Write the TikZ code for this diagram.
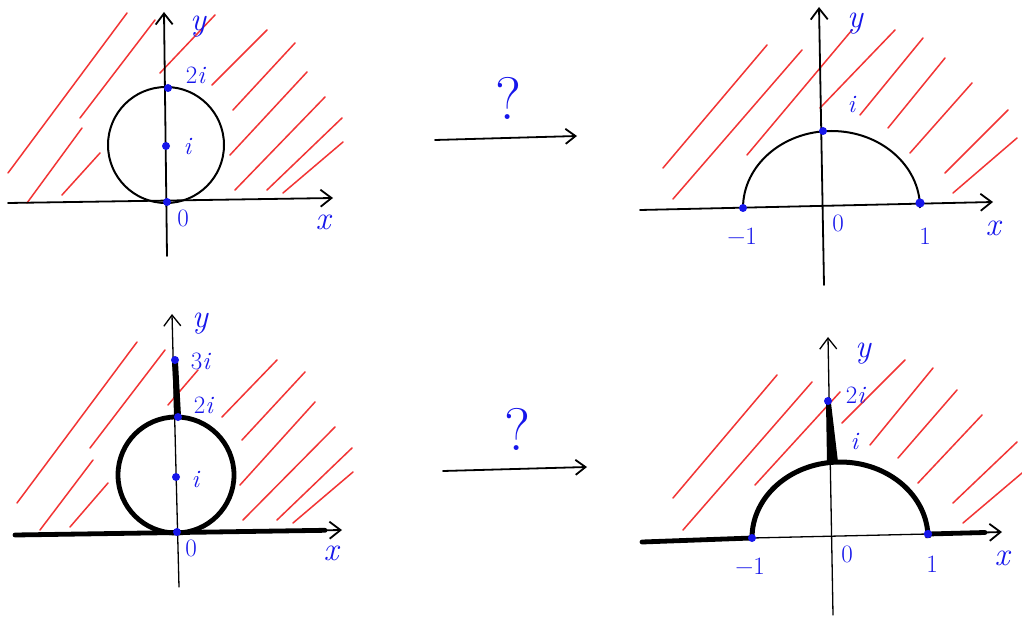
\documentclass[tikz,border=0pt]{standalone}
\usepackage{fontspec}
\setmainfont{Latin Modern Roman}
\usetikzlibrary{arrows.meta}
\definecolor{hred}{RGB}{242,52,52}
\definecolor{hblue}{RGB}{22,22,235}
\tikzset{
  axisline/.style={draw=black, line width=1.8pt, line cap=round, -{Straight Barb[length=11pt,width=17pt]}},
  thinaxis/.style={draw=black, line width=1.3pt, line cap=round, -{Straight Barb[length=11pt,width=17pt]}},
  hatch/.style={draw=hred, line width=1.5pt, line cap=round},
  curve/.style={draw=black, line width=2pt},
  heavy/.style={draw=black, line width=4.8pt, line cap=round},
  lab/.style={text=hblue, font=\fontsize{25}{25}\selectfont, inner sep=0pt},
  biglab/.style={text=hblue, font=\fontsize{33}{33}\selectfont\itshape, inner sep=0pt},
  qlab/.style={text=hblue, font=\fontsize{60}{60}\selectfont, inner sep=0pt},
  mapsto/.style={draw=black, line width=1.8pt, line cap=round, -{Straight Barb[length=10pt,width=15pt]}},
}
\newcommand{\im}{\textit{i}}
\begin{document}
\begin{tikzpicture}[x=1pt,y=-1pt]
\useasboundingbox (0,0) rectangle (1022,617);
\fill[white] (0,0) rectangle (1022,617);

% ---------------- Panel 1 (top left)
\foreach \a/\b in {{(8,173)}/{(127,13)},{(80,118)}/{(155,20)},{(27,203)}/{(82,128)},{(62,195)}/{(100,153)},
  {(160,73)}/{(215,15)},{(212,85)}/{(267,30)},{(233,110)}/{(295,43)},{(230,155)}/{(307,72)},
  {(235,190)}/{(325,97)},{(267,190)}/{(342,118)},{(283,193)}/{(343,142)}}
  \draw[hatch] \a -- \b;
\coordinate (p1xs) at (8,203); \coordinate (p1xe) at (333,198);
\coordinate (p1ys) at (167,256); \coordinate (p1ye) at (164,12);
\draw[axisline] (p1xs) -- (p1xe);
\draw[axisline] (p1ys) -- (p1ye);
\draw[curve] (166,145) circle (58pt);
\fill[hblue] (168,88) circle (4pt);
\fill[hblue] (166,146) circle (4pt);
\fill[hblue] (167,202) circle (4pt);
\node[biglab] (p1y) at (198,27) {y};
\node[lab] (p1two) at (196,75) {2\im};
\node[lab] (p1i) at (188,147) {\im};
\node[lab] (p1zero) at (183,218) {0};
\node[biglab] (p1x) at (323,222) {x};

% ---------------- Arrow 1
\node[qlab] (q1) at (508,98) {?};
\coordinate (a1s) at (435,140); \coordinate (a1e) at (577,136);
\draw[mapsto] (a1s) -- (a1e);

% ---------------- Panel 2 (top right)
\foreach \a/\b in {{(663,168)}/{(767,45)},{(673,199)}/{(802,50)},{(747,155)}/{(852,30)},{(820,108)}/{(895,30)},
  {(860,115)}/{(923,38)},{(888,128)}/{(945,58)},{(910,153)}/{(972,83)},{(945,173)}/{(1008,110)},
  {(953,193)}/{(1017,138)}}
  \draw[hatch] \a -- \b;
\coordinate (p2xs) at (640,210); \coordinate (p2xe) at (993,202);
\coordinate (p2ys) at (824,285); \coordinate (p2ye) at (819,7);
\draw[axisline] (p2xs) -- (p2xe);
\draw[axisline] (p2ys) -- (p2ye);
\draw[curve] (743,208) arc[start angle=180, end angle=0, x radius=88.5pt, y radius=77pt];
\fill[hblue] (743,208) circle (4pt);
\fill[hblue] (823,131) circle (4pt);
\fill[hblue] (920,203) circle (4.6pt);
\node[biglab] (p2y) at (855,24) {y};
\node[lab] (p2i) at (852,105) {\im};
\node[lab] (p2zero) at (838,223) {0};
\node[lab] (p2m1) at (742,236) {−1};
\node[lab] (p2one) at (925,236) {1};
\node[biglab] (p2x) at (993,228) {x};

% ---------------- Panel 3 (bottom left)
\foreach \a/\b in {{(17,503)}/{(137,342)},{(90,448)}/{(165,350)},{(40,530)}/{(93,460)},{(70,527)}/{(108,483)},
  {(168,405)}/{(198,370)},{(222,417)}/{(277,360)},{(242,440)}/{(305,372)},{(240,485)}/{(315,402)},
  {(243,520)}/{(335,427)},{(277,520)}/{(352,448)},{(293,523)}/{(353,472)}}
  \draw[hatch] \a -- \b;
\coordinate (p3xs) at (15,535); \coordinate (p3xe) at (342,530);
\coordinate (p3ys) at (179,587); \coordinate (p3ye) at (172,314);
\draw[thinaxis] (p3ys) -- (p3ye);
\draw[heavy] (p3xs) -- (325,530.3);
\draw[draw=black, line width=1.8pt, -{Straight Barb[length=11pt,width=17pt]}] (318,530.4) -- (p3xe);
\draw[draw=black, line width=4.8pt] (176,475) circle (58pt);
\draw[draw=black, line width=6pt] (175,362) -- (178,416);
\fill[hblue] (175,360) circle (4pt);
\fill[hblue] (178,417) circle (4pt);
\fill[hblue] (176,477) circle (4pt);
\fill[hblue] (177,532) circle (4pt);
\node[biglab] (p3y) at (200,324) {y};
\node[lab] (p3three) at (201,361) {3\im};
\node[lab] (p3two) at (204,405) {2\im};
\node[lab] (p3i) at (196,479) {\im};
\node[lab] (p3zero) at (191,548) {0};
\node[biglab] (p3x) at (331,553) {x};

% ---------------- Arrow 2
\node[qlab] (q2) at (517,429) {?};
\coordinate (a2s) at (443,471); \coordinate (a2e) at (587,467);
\draw[mapsto] (a2s) -- (a2e);

% ---------------- Panel 4 (bottom right)
\foreach \a/\b in {{(673,498)}/{(777,375)},{(683,530)}/{(812,382)},{(755,485)}/{(840,392)},{(842,423)}/{(905,360)},
  {(870,445)}/{(933,368)},{(898,458)}/{(957,390)},{(918,483)}/{(982,415)},{(953,503)}/{(1017,442)},
  {(963,523)}/{(1022,473)}}
  \draw[hatch] \a -- \b;
\coordinate (p4xs) at (642,542); \coordinate (p4xe) at (1002,532);
\coordinate (p4ys) at (833,615); \coordinate (p4ye) at (828,337);
\coordinate (p4m) at (752,538); \coordinate (p4p) at (928,534);
\draw[draw=black, line width=1.3pt] (p4m) -- (p4p);
\draw[heavy] (p4xs) -- (p4m);
\draw[heavy] (p4p) -- (985,532.5);
\draw[draw=black, line width=1.8pt, -{Straight Barb[length=11pt,width=17pt]}] (980,532.6) -- (p4xe);
\draw[thinaxis] (p4ys) -- (p4ye);
\draw[draw=black, line width=5pt] (p4m) arc[start angle=180, end angle=0, x radius=88pt, y radius=76pt];
\fill[black] (826,403) -- (831,403) -- (838,462) -- (827,462) -- cycle;
\fill[hblue] (828,401) circle (4pt);
\fill[hblue] (752,538) circle (4pt);
\fill[hblue] (928,534) circle (4.2pt);
\node[biglab] (p4y) at (863,354) {y};
\node[lab] (p4two) at (856,395) {2\im};
\node[lab] (p4i) at (855,441) {\im};
\node[lab] (p4zero) at (847,554) {0};
\node[lab] (p4m1) at (750,566) {−1};
\node[lab] (p4one) at (932,564) {1};
\node[biglab] (p4x) at (1002,558) {x};
\end{tikzpicture}
\end{document}
